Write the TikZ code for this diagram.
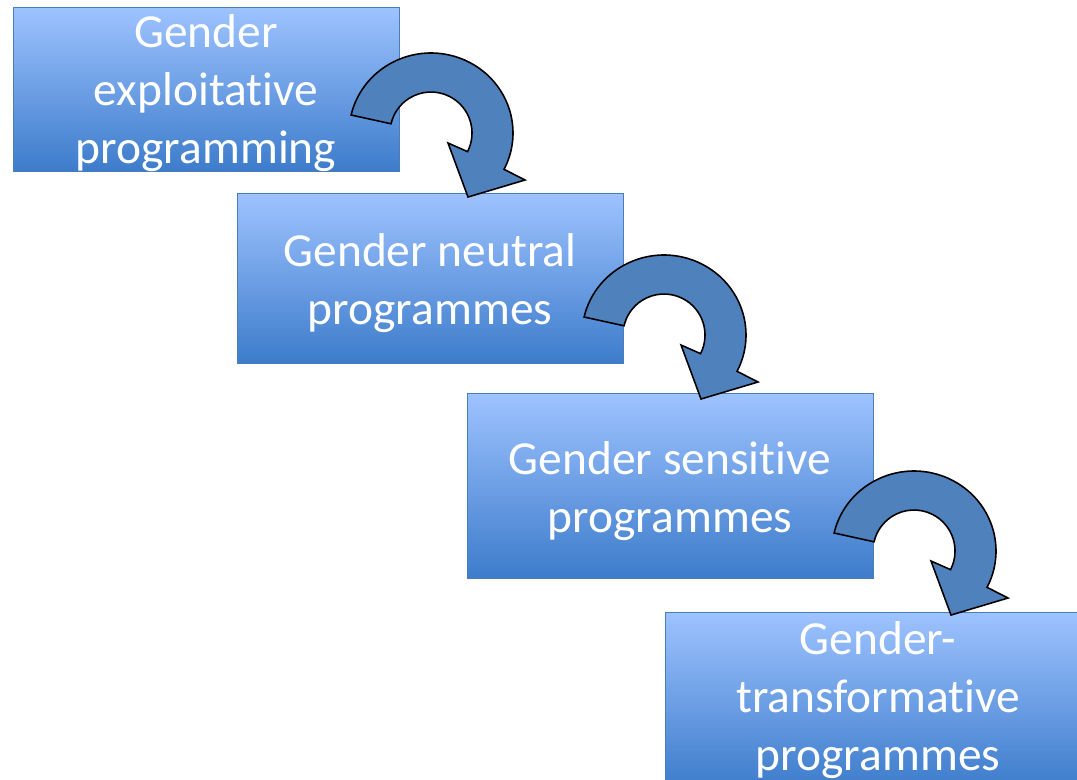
\documentclass[tikz,border=0pt]{standalone}
\usepackage{fontspec}
\setmainfont{Carlito}[Ligatures={NoCommon,NoContextual}]
\usepackage{xcolor}
\usepackage{tikz}

\definecolor{boxtop}{RGB}{158,195,255}
\definecolor{boxmid}{RGB}{125,170,240}
\definecolor{boxbot}{RGB}{61,124,203}
\definecolor{boxline}{RGB}{74,126,187}
\definecolor{turnfill}{RGB}{79,129,189}

\newcommand{\lift}{\rule{0pt}{25pt}}

\begin{document}
\begin{tikzpicture}[x=0.02cm,y=0.02cm,
		stage/.style={draw=boxline, thin, top color=boxtop, middle color=boxmid, bottom color=boxbot,
			text=white, align=center, inner sep=0pt, font=\fontsize{27}{33}\selectfont}]
				\clip (0,0) rectangle (1077,-779);

				% the four stages
				\node[stage, minimum width=7.72cm, minimum height=3.28cm] (exploit) at (206,-89) {Gender\\exploitative\\\smash{programming}};
				\node[stage, minimum width=7.72cm, minimum height=3.40cm] (neutral) at (430,-278) {\lift Gender neutral\\programmes};
				\node[stage, minimum width=8.12cm, minimum height=3.70cm] (sensitive) at (670,-485.5) {\lift Gender sensitive\\programmes};
				\node[stage, minimum width=8.52cm, minimum height=3.52cm] (transform) at (878,-700) {Gender-\\transformative\\programmes};

				% curved arrows between them
				\foreach \cx/\cy in {431/-133, 664/-335, 914/-551}
					\filldraw[fill=turnfill, draw=black, line width=0.9pt, line join=miter, shift={(\cx,\cy)}]
						(167:82 and 80) arc[start angle=167, end angle=-27, x radius=82, y radius=80]
						-- (94,-47) -- (37,-64) -- (17,-10)
						-- (-27:41) arc[start angle=-27, end angle=167, radius=41] -- cycle;
			\end{tikzpicture}
\end{document}
